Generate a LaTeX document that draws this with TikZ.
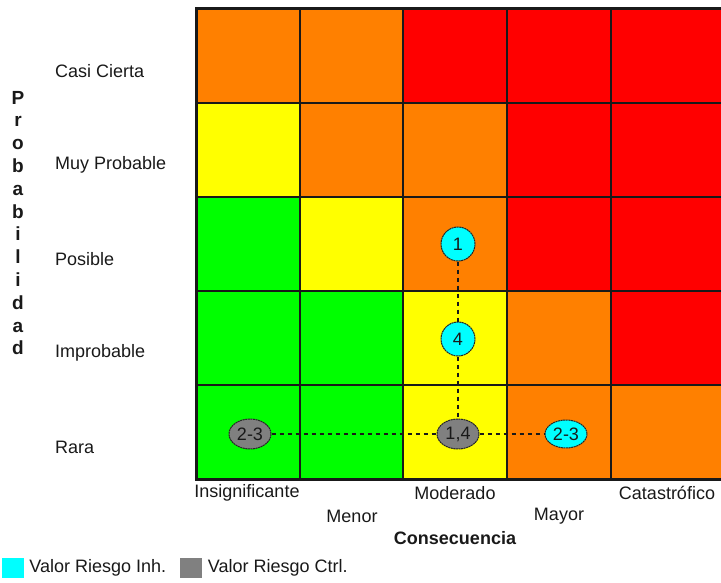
\documentclass[tikz,border=0pt]{standalone}
\usepackage{fontspec}
\setmainfont{Liberation Sans}
\usepackage{tikz}
\usetikzlibrary{shapes,positioning}
\definecolor{rOrange}{RGB}{255,128,0}
\definecolor{rRed}{RGB}{255,0,0}
\definecolor{rYellow}{RGB}{255,255,0}
\definecolor{rGreen}{RGB}{0,255,0}
\definecolor{rCyan}{RGB}{0,255,255}
\definecolor{rGray}{RGB}{128,128,128}

\begin{document}
\begin{tikzpicture} [x=1pt, y=-1pt, text=black!90,
	   every node/.style={font=\fontsize{18}{20}\selectfont},
	   riskcell/.style = {rectangle, draw=black!90, line width=2pt, minimum height=94pt, inner sep=0pt},
	   riskmark/.style 2 args = {ellipse, inner sep=0pt, minimum width=#1, minimum height=#2,
	                             draw=black!85, line width=1pt, dash pattern=on 2pt off 0.6pt},
	   inhmark/.style = {riskmark={#1}{30pt}, fill=rCyan},
	   ctrlmark/.style = {riskmark={#1}{30pt}, fill=rGray},
	   riskline/.style = {black!90, line width=1.8pt, dash pattern=on 4pt off 4pt},
	   levellabel/.style = {anchor=west, inner sep=0pt},
	   legendbox/.style = {rectangle, minimum width=22pt, minimum height=20pt, inner sep=0pt}]
	\useasboundingbox (0,0) rectangle (721,583);
	\clip (0,0) rectangle (721,583);
	%% Matrix cells
	\foreach \r/\cA/\cB/\cC/\cD/\cE in {1/rOrange/rOrange/rRed/rRed/rRed,
	                                    2/rYellow/rOrange/rOrange/rRed/rRed,
	                                    3/rGreen/rYellow/rOrange/rRed/rRed,
	                                    4/rGreen/rGreen/rYellow/rOrange/rRed,
	                                    5/rGreen/rGreen/rYellow/rOrange/rOrange} {
		\foreach \clr [count=\c] in {\cA,\cB,\cC,\cD,\cE} {
			\node [riskcell, fill=\clr, minimum width={ifthenelse(\c==5,120,103.7)}]
			      (c-\r-\c) at ({196+(\c-1)*103.7+ifthenelse(\c==5,60,51.85)}, {9+(\r-0.5)*94}) {};
		}
	}
	\draw [black!90, line width=3pt] (730,9) -- (196,9) -- (196,479) -- (730,479);
	
	%% Probability levels
	\node [levellabel] (casi) at (55,71) {Casi Cierta};
	\node [levellabel] (muy) at (55,165) {Muy Probable};
	\node [levellabel] (pos) at (55,259) {Posible};
	\node [levellabel] (imp) at (55,353) {Improbable};
	\node [levellabel] (rara) at (55,447) {Rara};
	\node [align=center, inner sep=0pt, font=\bfseries\fontsize{19}{22.8}\selectfont] (prob) at (18,223)
	      {P\\r\\o\\b\\a\\b\\i\\l\\i\\d\\a\\d};
	
	%% Consequence levels
	\node (insig) at (247,493) {Insignificante};
	\node (menor) at (352,516) {Menor};
	\node (moder) at (455,493) {Moderado};
	\node (mayor) at (559,516) {Mayor};
	\node (catas) at (667,493) {Catastrófico};
	\node [font=\bfseries\fontsize{18}{20}\selectfont] (conse) at (455,538) {Consecuencia};
	
	%% Risk marks
	\node [inhmark=34pt, minimum height=34pt] (m1) at (458,244) {1};
	\node [inhmark=34pt, minimum height=34pt] (m4) at (458,339) {4};
	\node [ctrlmark=42pt] (m14) at (458,434) {1,4};
	\node [ctrlmark=42pt] (ctrl23) at (250,434) {2-3};
	\node [inhmark=42pt, minimum height=28pt] (inh23) at (566,434) {2-3};
	
	%% Dashed paths
	\draw [riskline] (m1) -- (m4);
	\draw [riskline] (m4) -- (m14);
	\draw [riskline] (ctrl23) -- (m14);
	\draw [riskline] (m14) -- (inh23);
	
	%% Legend
	\node [legendbox, fill=rCyan] (legInh) at (13,568) {};
	\node [right=5pt of legInh, inner sep=0pt] (txtInh) {Valor Riesgo Inh.};
	\node [legendbox, fill=rGray, right=13pt of txtInh] (legCtrl) {};
	\node [right=6pt of legCtrl, inner sep=0pt] (txtCtrl) {Valor Riesgo Ctrl.};
\end{tikzpicture}
\end{document}
